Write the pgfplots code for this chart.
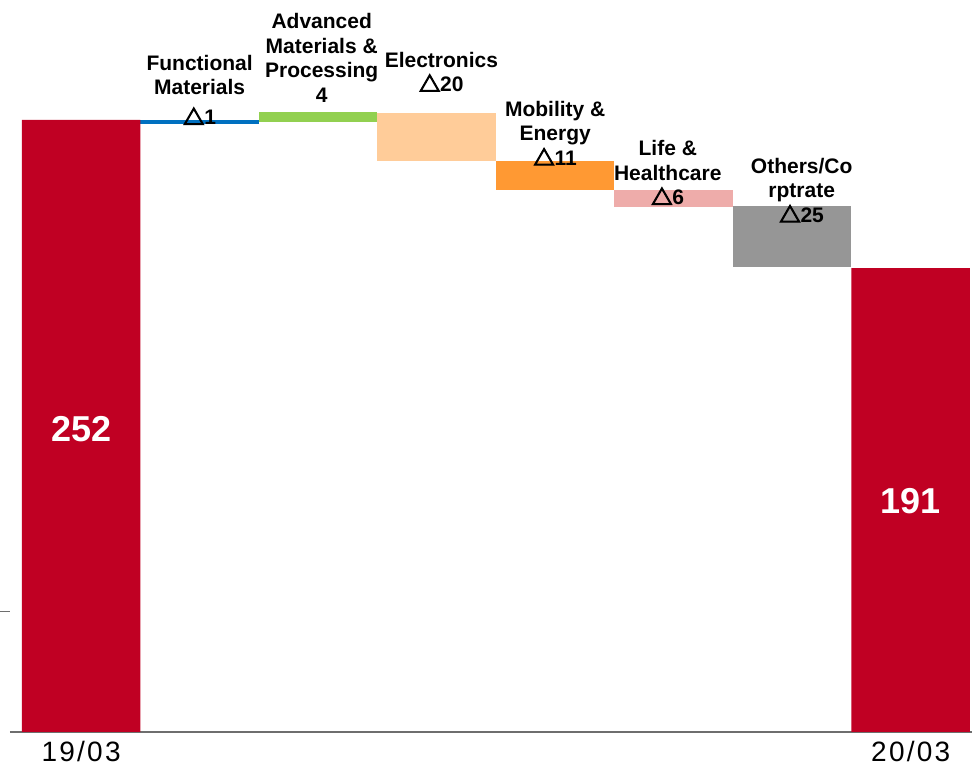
\documentclass[border=0pt]{standalone}
\usepackage{pgfplots}
\pgfplotsset{compat=1.18}
\usepackage{pgfplotstable}
\usepackage{fontspec}
\setmainfont{Liberation Sans}
\newfontfamily\cjk{Noto Sans CJK JP}[FakeBold=5]
\newfontfamily\datefont{Liberation Sans}[LetterSpace=8]

\definecolor{barred}{RGB}{192,0,35}
\definecolor{barblue}{RGB}{0,112,192}
\definecolor{bargreen}{RGB}{146,208,80}
\definecolor{barpeach}{RGB}{255,204,153}
\definecolor{barorange}{RGB}{255,153,51}
\definecolor{barpink}{RGB}{238,172,170}
\definecolor{bargray}{RGB}{150,150,150}
\definecolor{axisgray}{RGB}{110,110,110}

\newcommand{\tri}{{\cjk △}}

% waterfall: invisible base + one visible segment per column
\pgfplotstableread{
x  base   red  blue green peach orange pink gray
0  0      252  0    0     0     0      0    0
1  250.5  0    1.5  0     0     0      0    0
2  251    0    0    4.3   0     0      0    0
3  235    0    0    0     20    0      0    0
4  223.3  0    0    0     0     11.7   0    0
5  216.2  0    0    0     0     0      7    0
6  191.5  0    0    0     0     0      0    25
7  0      191  0    0     0     0      0    0
}\wf

\begin{document}
\begin{tikzpicture}[
  lbl/.style={anchor=south, align=center, inner sep=0pt,
    font=\bfseries\fontsize{21bp}{24.5bp}\selectfont},
  big/.style={text=white, inner sep=0pt, font=\bfseries\fontsize{36bp}{37bp}\selectfont},
]
\begin{axis}[
  name=ax,
  scale only axis,
  width=962bp, height=732bp,
  xmin=-0.6, xmax=7.517,
  ymin=0, ymax=301.4,
  ybar stacked, bar width=1,
  clip=false,
  axis x line*=bottom, axis y line*=left,
  y axis line style={draw=none},
  x axis line style={-, draw=axisgray, line width=1.6bp},
  xtick={0,7}, xticklabels={19/03,20/03},
  xtick style={draw=none},
  ytick={49.5}, yticklabels={},
  ytick style={draw=axisgray, line width=1.2bp},
  tick align=outside, major tick length=10bp,
  xticklabel style={font=\datefont\fontsize{28bp}{29bp}\selectfont, anchor=base, inner sep=0pt, yshift=-20bp},
]
\addplot[draw=none, fill=none] table[x=x, y=base] {\wf};
\addplot[draw=none, fill=barred] table[x=x, y=red] {\wf};
\addplot[draw=none, fill=barblue] table[x=x, y=blue] {\wf};
\addplot[draw=none, fill=bargreen] table[x=x, y=green] {\wf};
\addplot[draw=none, fill=barpeach] table[x=x, y=peach] {\wf};
\addplot[draw=none, fill=barorange] table[x=x, y=orange] {\wf};
\addplot[draw=none, fill=barpink] table[x=x, y=pink] {\wf};
\addplot[draw=none, fill=bargray] table[x=x, y=gray] {\wf};

% anchor points for the texts, drawn after the axis so they sit on top
\coordinate (v0) at (axis cs:0,124.6);
\coordinate (v7) at (axis cs:7,94.9);
\coordinate (l1) at (axis cs:1.00,249.9);
\coordinate (l2) at (axis cs:2.03,259.3);
\coordinate (l3) at (axis cs:3.04,263.5);
\coordinate (l4) at (axis cs:4.00,233.2);
\coordinate (l5) at (axis cs:4.95,216.9);
\coordinate (l6) at (axis cs:6.08,209.7);
\end{axis}

\node[big] at (v0) {252};
\node[big] at (v7) {191};

\node[lbl] at (l1) {Functional\\Materials\\[5.5bp]\tri1};
\node[lbl] at (l2) {Advanced\\Materials \&\\Processing\\4};
\node[lbl] at (l3) {Electronics\\\tri20};
\node[lbl] at (l4) {Mobility \&\\Energy\\\tri11};
\node[lbl] at (l5) {Life \&\\Healthcare\\\tri6};
\node[lbl] at (l6) {Others/Co\\rptrate\\\tri25};

\pgfresetboundingbox
\path[use as bounding box] ([xshift=-10bp,yshift=-35bp]ax.south west) rectangle (ax.north east);
\end{tikzpicture}
\end{document}
